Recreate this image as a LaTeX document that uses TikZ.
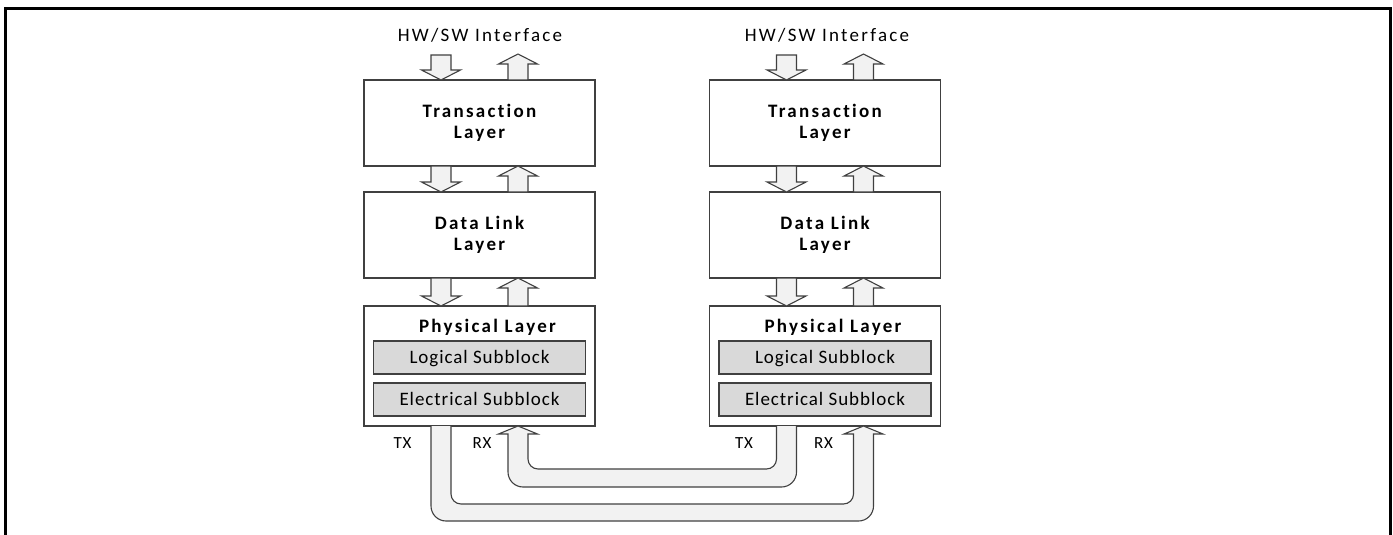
\documentclass[tikz,border=0pt]{standalone}
\usepackage{fontspec}
\setmainfont{Carlito}
\newfontfamily\lblfont{Carlito}[LetterSpace=5, Ligatures={NoCommon}]
\newfontfamily\hwfont{Carlito}[LetterSpace=12, Ligatures={NoCommon}]
\newfontfamily\ttlfont{Carlito}[LetterSpace=12, Ligatures={NoCommon}]
\usetikzlibrary{calc}
\definecolor{edge}{HTML}{404040}
\definecolor{arrowfill}{HTML}{F2F2F2}
\definecolor{subfill}{HTML}{D9D9D9}
\tikzset{
  layerbox/.style={draw=edge, line width=1.3pt, minimum width=231pt, inner sep=0pt, outer sep=0pt, fill=white, align=center},
  ttl/.style={font=\ttlfont\bfseries\fontsize{19}{21.6}\selectfont},
  subbox/.style={draw=edge, fill=subfill, line width=1.3pt, minimum width=212pt, minimum height=33pt, inner sep=0pt, outer sep=0pt, font=\lblfont\fontsize{19}{22}\selectfont, text height=12pt, text depth=0pt},
  blk/.style={draw=edge, fill=arrowfill, line width=1.1pt, line join=miter},
  lbl/.style={font=\hwfont\fontsize{19}{22}\selectfont, inner sep=0pt, anchor=base},
  sig/.style={font=\lblfont\fontsize{17}{20}\selectfont, inner sep=0pt, anchor=base},
  frame/.style={draw=black, line width=3pt}
}
\newcommand\blkdown[2]{\path[blk] let \p1=(#1), \p2=(#2) in
  (\x1-10pt,\y1) -- (\x1+10pt,\y1) -- (\x1+10pt,\y2+10pt) -- (\x1+19.5pt,\y2+10pt) -- (\x1,\y2)
  -- (\x1-19.5pt,\y2+10pt) -- (\x1-10pt,\y2+10pt) -- cycle;}
\newcommand\blkup[2]{\path[blk] let \p1=(#1), \p2=(#2) in
  (\x1-10pt,\y1) -- (\x1-10pt,\y2-10pt) -- (\x1-19.5pt,\y2-10pt) -- (\x1,\y2)
  -- (\x1+19.5pt,\y2-10pt) -- (\x1+10pt,\y2-10pt) -- (\x1+10pt,\y1) -- cycle;}
\begin{document}
\begin{tikzpicture}[x=1pt,y=-1pt]
\useasboundingbox (0,0) rectangle (1393,535);
\draw[frame] (5,535) -- (5,9) -- (1390,9) -- (1390,535);
% columns
\foreach \c/\cx/\hx/\tx/\rx in {L/479.5/0.5/-77/2.5, R/825/2/-81/-1.5}{
  \node[layerbox, minimum height=86pt, ttl] (tl\c) at (\cx,123) {Transaction\\Layer};
  \node[layerbox, minimum height=86pt, ttl] (dl\c) at (\cx,235) {Data Link\\Layer};
  \node[layerbox, minimum height=120pt] (pl\c) at (\cx,366) {};
  \node[ttl, anchor=base, inner sep=0pt] (pt\c) at ($(pl\c.north)+(8,26)$) {Physical Layer};
  \node[subbox, anchor=north] (ls\c) at ($(pl\c.north)+(0,35)$) {Logical Subblock};
  \node[subbox, anchor=north] (es\c) at ($(pl\c.north)+(0,77)$) {Electrical Subblock};
  \node[lbl] (hw\c) at ($(tl\c.north)+(\hx,-38.3)$) {HW/SW Interface};
  \node[sig] (tx\c) at ($(pl\c.south)+(\tx,22)$) {TX};
  \node[sig] (rx\c) at ($(pl\c.south)+(\rx,22)$) {RX};
  \blkdown{$(tl\c.north)+(-38.5,-25)$}{$(tl\c.north)+(-38.5,0)$}
  \blkup{$(tl\c.north)+(38.5,0)$}{$(tl\c.north)+(38.5,-26)$}
  \blkdown{$(tl\c.south)+(-38.5,0)$}{$(dl\c.north)+(-38.5,0)$}
  \blkup{$(dl\c.north)+(38.5,0)$}{$(tl\c.south)+(38.5,0)$}
  \blkdown{$(dl\c.south)+(-38.5,0)$}{$(pl\c.north)+(-38.5,0)$}
  \blkup{$(pl\c.north)+(38.5,0)$}{$(dl\c.south)+(38.5,0)$}
}
% outer link: left TX -> right RX
\path[blk] let \p1=($(plL.south)+(-38.5,0)$), \p2=($(plR.south)+(38.5,0)$) in
  (\x1-10pt,\y1) -- (\x1-10pt,\y1-80pt) arc[start angle=180,end angle=270,radius=15pt]
  -- (\x2-5pt,\y1-95pt) arc[start angle=270,end angle=360,radius=15pt]
  -- (\x2+10pt,\y2-8pt) -- (\x2+19.5pt,\y2-8pt) -- (\x2,\y2) -- (\x2-19.5pt,\y2-8pt) -- (\x2-10pt,\y2-8pt)
  -- (\x2-10pt,\y1-68pt) arc[start angle=0,end angle=-90,radius=10pt]
  -- (\x1+20pt,\y1-78pt) arc[start angle=270,end angle=180,radius=10pt]
  -- (\x1+10pt,\y1);
% inner link: right TX -> left RX
\path[blk] let \p1=($(plR.south)+(-38.5,0)$), \p2=($(plL.south)+(38.5,0)$) in
  (\x1+10pt,\y1) -- (\x1+10pt,\y1-46pt) arc[start angle=0,end angle=-90,radius=15pt]
  -- (\x2+5pt,\y1-61pt) arc[start angle=270,end angle=180,radius=15pt]
  -- (\x2-10pt,\y2-8pt) -- (\x2-19.5pt,\y2-8pt) -- (\x2,\y2) -- (\x2+19.5pt,\y2-8pt) -- (\x2+10pt,\y2-8pt)
  -- (\x2+10pt,\y1-33pt) arc[start angle=180,end angle=270,radius=10pt]
  -- (\x1-20pt,\y1-43pt) arc[start angle=270,end angle=360,radius=10pt]
  -- (\x1-10pt,\y1);
\end{tikzpicture}
\end{document}
